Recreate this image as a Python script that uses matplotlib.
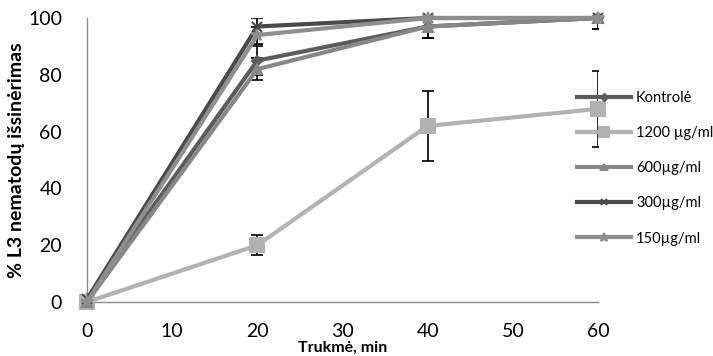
import matplotlib.pyplot as plt

plt.rcParams['font.family'] = ['Lato', 'DejaVu Sans']

time_min = [0, 20, 40, 60]

labels = ['Kontrolė', '1200 µg/ml', '600µg/ml', '300µg/ml', '150µg/ml']
kontrole = [1, 85, 97, 100]
c1200 = [0, 20, 62, 68]
c600 = [0, 82, 97, 100]
c300 = [1, 97, 100, 100]
c150 = [0, 94, 100, 100]

kontrole_err = [0, 5, 4, 4]
c1200_err = [0, 3.5, 12.3, 13.5]
c600_err = [0, 4, 4, 4]
c300_err = [0, 3, 0, 0]
c150_err = [0, 3, 0, 0]

series = [kontrole, c1200, c600, c300, c150]
errors = [kontrole_err, c1200_err, c600_err, c300_err, c150_err]
colors = ['#5c5c5c', '#b2b2b2', '#878787', '#4a4a4a', '#8e8e8e']
markers = ['D', 's', '^', 'x', '*']
msizes = [5, 10, 7, 7, 9]

fig = plt.figure(figsize=(7.13, 3.56), dpi=100)
ax = fig.add_axes([87 / 713, 1 - 302 / 356, (598 - 87) / 713, (302 - 18) / 356])

handles = []
for vals, err, col, mk, ms, lab in zip(series, errors, colors, markers, msizes, labels):
    # the axis stops at 100 %, so the upper whisker is cut there
    upper = [min(e, 100 - v) for v, e in zip(vals, err)]
    ax.errorbar(time_min, vals, yerr=[err, upper], fmt='none', ecolor='black',
                elinewidth=1.2, capsize=4, capthick=1.2, zorder=2)
    h, = ax.plot(time_min, vals, color=col, lw=3, marker=mk, ms=ms,
                 mfc=col, mec=col, mew=1.5, label=lab, zorder=3, clip_on=False)
    handles.append(h)

ax.set_xlim(0, 60)
ax.set_ylim(0, 100)
ax.set_xticks([0, 10, 20, 30, 40, 50, 60])
ax.set_yticks([0, 20, 40, 60, 80, 100])
ax.tick_params(labelsize=14, length=0)
ax.tick_params(axis='y', pad=18)
ax.tick_params(axis='x', pad=15)
for side in ['top', 'right']:
    ax.spines[side].set_visible(False)
for side in ['left', 'bottom']:
    ax.spines[side].set_color('#8c8c8c')
    ax.spines[side].set_linewidth(1)

ax.set_xlabel('Trukmė, min', fontsize=11.5, fontweight='bold', labelpad=1)
ax.set_ylabel('% L3 nematodų išsinėrimas', fontsize=14, fontweight='bold', labelpad=2)

fig.legend(handles=handles, loc='upper left', bbox_to_anchor=(577 / 713, 1 - 91 / 356),
           frameon=False, fontsize=10.5, handlelength=3.7, handletextpad=0.35,
           labelspacing=1.45, borderpad=0, borderaxespad=0, markerscale=0.7)

fig.savefig('out.png', dpi=100)
